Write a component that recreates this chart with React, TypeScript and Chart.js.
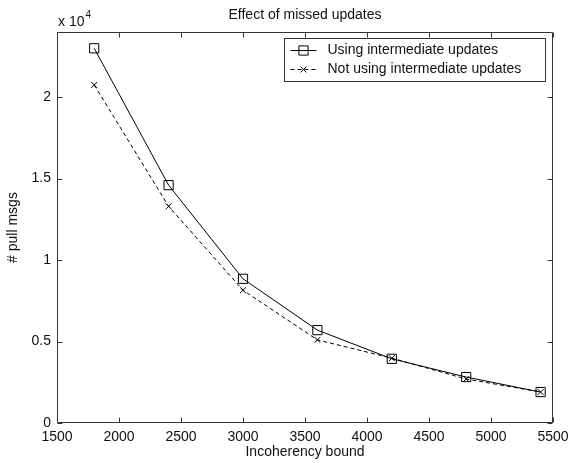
import React, { useEffect, useRef } from 'react';
import { Chart, registerables } from 'chart.js';

Chart.register(...registerables);

const xValues = [1800, 2400, 3000, 3600, 4200, 4800, 5400];
const usingIntermediate = [23000, 14600, 8850, 5700, 3940, 2820, 1900];
const notUsingIntermediate = [20750, 13300, 8150, 5100, 3980, 2700, 1900];
const xTicks = [1500, 2000, 2500, 3000, 3500, 4000, 4500, 5000, 5500];
const yTicks = [0, 5000, 10000, 15000, 20000];
const yTickLabels = ['0', '0.5', '1', '1.5', '2'];
const seriesLabels = ['Using intermediate updates', 'Not using intermediate updates'];
const titleText = 'Effect of missed updates';
const xTitle = 'Incoherency bound';
const yTitle = '# pull msgs';
const exponentBase = 'x 10';
const exponentPower = '4';

const FONT = '"Liberation Sans", Arial, Helvetica, sans-serif';
const AXIS_COLOR = '#333333';
const TEXT_COLOR = '#111111';

function drawMarker(ctx: CanvasRenderingContext2D, style: string, x: number, y: number, r: number) {
  ctx.beginPath();
  if (style === 'rect') {
    const s = Math.SQRT1_2 * r;
    ctx.rect(x - s, y - s, 2 * s, 2 * s);
  } else {
    const o = Math.SQRT1_2 * r;
    ctx.moveTo(x - o, y - o);
    ctx.lineTo(x + o, y + o);
    ctx.moveTo(x - o, y + o);
    ctx.lineTo(x + o, y - o);
  }
  ctx.stroke();
}

const matlabAxes = {
  id: 'matlabAxes',
  beforeDatasetsDraw(chart: any) {
    const { ctx, chartArea } = chart;
    const l = Math.round(chartArea.left) + 0.5;
    const r = Math.round(chartArea.right) - 0.5;
    const t = Math.round(chartArea.top) + 0.5;
    const b = Math.round(chartArea.bottom) - 0.5;
    const tl = 5;
    ctx.save();
    ctx.strokeStyle = AXIS_COLOR;
    ctx.lineWidth = 1;
    ctx.beginPath();
    ctx.rect(l, t, r - l, b - t);
    const xs = chart.scales.x;
    const ys = chart.scales.y;
    xs.ticks.forEach((tk: any) => {
      const px = Math.round(xs.getPixelForValue(tk.value)) + 0.5;
      ctx.moveTo(px, b);
      ctx.lineTo(px, b - tl);
      ctx.moveTo(px, t);
      ctx.lineTo(px, t + tl);
    });
    ys.ticks.forEach((tk: any) => {
      const py = Math.round(ys.getPixelForValue(tk.value)) + 0.5;
      ctx.moveTo(l, py);
      ctx.lineTo(l + tl, py);
      ctx.moveTo(r, py);
      ctx.lineTo(r - tl, py);
    });
    ctx.stroke();
    ctx.restore();
  },
  afterDatasetsDraw(chart: any) {
    const { ctx, chartArea } = chart;
    ctx.save();
    // title, centred over the plot area
    ctx.fillStyle = TEXT_COLOR;
    ctx.font = `14px ${FONT}`;
    ctx.textAlign = 'center';
    ctx.textBaseline = 'middle';
    ctx.fillText(titleText, (chartArea.left + chartArea.right) / 2, 15);
    // legend box
    const boxR = Math.round(chartArea.right) - 7.5;
    const boxL = boxR - 261;
    const boxT = Math.round(chartArea.top) + 6.5;
    const boxB = boxT + 43;
    ctx.fillStyle = '#ffffff';
    ctx.fillRect(boxL, boxT, boxR - boxL, boxB - boxT);
    ctx.strokeStyle = AXIS_COLOR;
    ctx.lineWidth = 1;
    ctx.strokeRect(boxL, boxT, boxR - boxL, boxB - boxT);
    ctx.font = `14px ${FONT}`;
    ctx.textBaseline = 'middle';
    ctx.textAlign = 'left';
    chart.data.datasets.forEach((ds: any, i: number) => {
      const cy = Math.round(boxT + 11 + i * 19) + 0.5;
      const x0 = boxL + 6;
      const x1 = boxL + 32;
      ctx.strokeStyle = '#000';
      ctx.setLineDash(ds.borderDash || []);
      ctx.beginPath();
      ctx.moveTo(x0, cy);
      ctx.lineTo(x1, cy);
      ctx.stroke();
      ctx.setLineDash([]);
      drawMarker(ctx, ds.pointStyle, (x0 + x1) / 2, cy, ds.pointRadius);
      ctx.fillStyle = TEXT_COLOR;
      ctx.fillText(ds.label, boxL + 43, cy);
    });
    // exponent label
    ctx.fillStyle = TEXT_COLOR;
    ctx.textBaseline = 'alphabetic';
    ctx.font = `14px ${FONT}`;
    const ex = Math.round(chartArea.left) + 1;
    ctx.fillText(exponentBase, ex, 26);
    const w = ctx.measureText(exponentBase).width;
    ctx.font = `10px ${FONT}`;
    ctx.fillText(exponentPower, ex + w + 1, 18);
    ctx.restore();
  },
};

export default function App() {
  const canvasRef = useRef<HTMLCanvasElement | null>(null);

  useEffect(() => {
    document.body.style.margin = '0';
    const canvas = canvasRef.current;
    if (!canvas) return;
    const chart = new Chart(canvas, {
      type: 'line',
      data: {
        datasets: [
          {
            label: seriesLabels[0],
            data: xValues.map((x, i) => ({ x, y: usingIntermediate[i] })),
            borderColor: '#000',
            borderWidth: 1,
            pointStyle: 'rect',
            pointRadius: 6.5,
            pointBorderColor: '#000',
            pointBackgroundColor: 'rgba(0,0,0,0)',
            pointBorderWidth: 1,
            tension: 0,
          },
          {
            label: seriesLabels[1],
            data: xValues.map((x, i) => ({ x, y: notUsingIntermediate[i] })),
            borderColor: '#000',
            borderWidth: 1,
            borderDash: [4, 3],
            pointStyle: 'crossRot',
            pointRadius: 4.2,
            pointBorderColor: '#000',
            pointBackgroundColor: 'rgba(0,0,0,0)',
            pointBorderWidth: 1,
            tension: 0,
          },
        ],
      },
      options: {
        responsive: false,
        animation: false,
        devicePixelRatio: 1,
        layout: { padding: { left: 0, right: 16, top: 32, bottom: 0 } },
        plugins: {
          legend: { display: false },
          tooltip: { enabled: false },
          title: { display: false },
        },
        scales: {
          x: {
            type: 'linear',
            min: 1500,
            max: 5500,
            grid: { display: false, drawTicks: false },
            border: { display: false },
            afterBuildTicks: (scale: any) => {
              scale.ticks = xTicks.map((v) => ({ value: v }));
            },
            afterFit: (scale: any) => {
              scale.height = 40;
              scale.paddingLeft = 0;
              scale.paddingRight = 0;
            },
            ticks: {
              color: TEXT_COLOR,
              font: { family: FONT, size: 14 },
              padding: 6,
              maxRotation: 0,
              autoSkip: false,
              callback: (v: any) => String(v),
            },
            title: {
              display: true,
              text: xTitle,
              color: TEXT_COLOR,
              font: { family: FONT, size: 14 },
              padding: { top: 0, bottom: 2 },
            },
          },
          y: {
            type: 'linear',
            min: 0,
            max: 24000,
            grid: { display: false, drawTicks: false },
            border: { display: false },
            afterBuildTicks: (scale: any) => {
              scale.ticks = yTicks.map((v) => ({ value: v }));
            },
            afterFit: (scale: any) => {
              scale.width = 57;
              scale.paddingTop = 0;
              scale.paddingBottom = 0;
            },
            ticks: {
              color: TEXT_COLOR,
              font: { family: FONT, size: 14 },
              padding: 6,
              autoSkip: false,
              callback: (v: any) => {
                const i = yTicks.indexOf(Number(v));
                return i >= 0 ? yTickLabels[i] : '';
              },
            },
            title: {
              display: true,
              text: yTitle,
              color: TEXT_COLOR,
              font: { family: FONT, size: 14 },
              padding: { top: 5, bottom: 0 },
            },
          },
        },
      },
      plugins: [matlabAxes],
    } as any);
    return () => chart.destroy();
  }, []);

  return (
    <div style={{ width: 569, height: 463, background: '#fff' }}>
      <canvas ref={canvasRef} width={569} height={463} style={{ display: 'block' }} />
    </div>
  );
}
